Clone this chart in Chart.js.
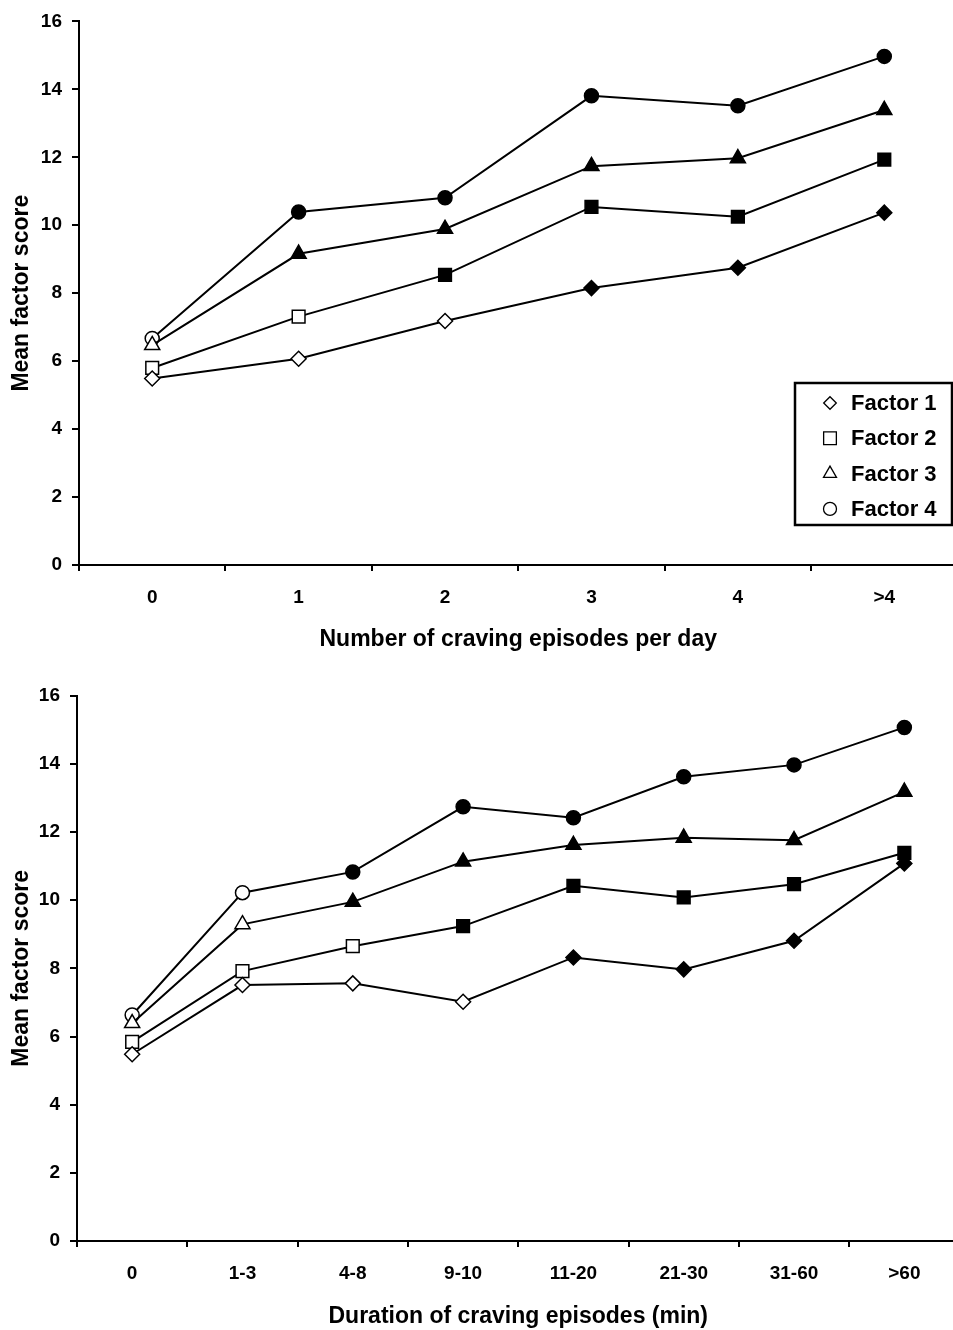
<!DOCTYPE html>
<html>
<head>
<meta charset="utf-8">
<title>Mean factor score by craving episodes</title>
<script src="https://cdn.jsdelivr.net/npm/chart.js@4"></script>
<style>
html,body{margin:0;padding:0;background:#fff;overflow:hidden}
.wrap{position:relative;width:953px;height:1330px;overflow:hidden}
canvas{position:absolute;left:0}
#chartEpisodes{top:0}
#chartDuration{top:665px}
</style>
</head>
<body>
<div class="wrap">
<canvas id="chartEpisodes" width="968" height="665"></canvas>
<canvas id="chartDuration" width="970" height="665"></canvas>
</div>
<script>
// --- data: number of craving episodes per day ---
var episodeLabels = ['0', '1', '2', '3', '4', '>4'];
var f1Episodes = [5.49, 6.07, 7.18, 8.15, 8.75, 10.37];
var f2Episodes = [5.80, 7.31, 8.54, 10.54, 10.25, 11.93];
var f3Episodes = [6.47, 9.16, 9.89, 11.74, 11.97, 13.39];
var f4Episodes = [6.67, 10.39, 10.81, 13.81, 13.52, 14.97];
// 1 = filled marker, 0 = open marker
var f1EpisodesFilled = [0, 0, 0, 1, 1, 1];
var f2EpisodesFilled = [0, 0, 1, 1, 1, 1];
var f3EpisodesFilled = [0, 1, 1, 1, 1, 1];
var f4EpisodesFilled = [0, 1, 1, 1, 1, 1];

// --- data: duration of craving episodes (min) ---
var durationLabels = ['0', '1-3', '4-8', '9-10', '11-20', '21-30', '31-60', '>60'];
var f1Duration = [5.48, 7.51, 7.56, 7.02, 8.32, 7.97, 8.81, 11.08];
var f2Duration = [5.84, 7.92, 8.65, 9.24, 10.42, 10.08, 10.47, 11.39];
var f3Duration = [6.39, 9.29, 9.95, 11.13, 11.62, 11.83, 11.76, 13.18];
var f4Duration = [6.63, 10.22, 10.83, 12.74, 12.42, 13.62, 13.97, 15.07];
var f1DurationFilled = [0, 0, 0, 0, 1, 1, 1, 1];
var f2DurationFilled = [0, 0, 0, 1, 1, 1, 1, 1];
var f3DurationFilled = [0, 0, 1, 1, 1, 1, 1, 1];
var f4DurationFilled = [0, 0, 1, 1, 1, 1, 1, 1];

var factorNames = ['Factor 1', 'Factor 2', 'Factor 3', 'Factor 4'];
var yTicks = [0, 2, 4, 6, 8, 10, 12, 14, 16];

var FONT = "'Liberation Sans', Arial, Helvetica, sans-serif";
var STYLES = ['rectRot', 'rect', 'triangle', 'circle'];
var RADII = [7.5, 9, 8.7, 7];

// legend box drawn inside the plot (top chart only)
var boxLegend = {
  id: 'boxLegend',
  afterDraw: function (chart) {
    var ctx = chart.ctx;
    var bx = 795, by = 383, bw = 157, bh = 142;
    var markX = 830, textX = 851, firstY = 403, step = 35.3;
    var markR = [6.3, 9, 7.5, 6.5];
    ctx.save();
    ctx.lineWidth = 2.5;
    ctx.strokeStyle = '#000';
    ctx.strokeRect(bx, by, bw, bh);
    chart.data.datasets.forEach(function (ds, i) {
      var cy = firstY + i * step;
      ctx.fillStyle = '#fff';
      ctx.strokeStyle = '#000';
      ctx.lineWidth = 1.3;
      if (Chart.helpers && Chart.helpers.drawPoint) {
        Chart.helpers.drawPoint(ctx, {pointStyle: ds.pointStyle, radius: markR[i], borderWidth: 1.3, rotation: 0}, markX, cy);
      }
      ctx.fillStyle = '#000';
      ctx.font = 'bold 22px ' + FONT;
      ctx.textAlign = 'left';
      ctx.textBaseline = 'middle';
      ctx.fillText(ds.label, textX, cy + 1);
    });
    ctx.restore();
  }
};

function makeChart(id, labels, series, filled, o) {
  var datasets = series.map(function (vals, i) {
    return {
      label: factorNames[i],
      data: vals,
      borderColor: '#000',
      borderWidth: 2,
      tension: 0,
      fill: false,
      pointStyle: STYLES[i],
      pointRadius: RADII[i],
      pointHoverRadius: RADII[i],
      pointBorderColor: '#000',
      pointBorderWidth: 1.5,
      pointBackgroundColor: filled[i].map(function (f) { return f ? '#000' : '#fff'; })
    };
  });
  var tickFont = {family: FONT, size: 19, weight: 'bold'};
  var titleFont = {family: FONT, size: 23, weight: 'bold'};
  return new Chart(document.getElementById(id), {
    type: 'line',
    data: {labels: labels, datasets: datasets},
    plugins: o.legend ? [boxLegend] : [],
    options: {
      responsive: false,
      animation: false,
      events: [],
      layout: {padding: {top: o.top, right: 0, bottom: 0, left: 0}},
      plugins: {legend: {display: false}, tooltip: {enabled: false}},
      scales: {
        x: {
          type: 'category',
          offset: true,
          grid: {display: true, offset: true, drawOnChartArea: false, drawTicks: true, tickLength: 6, color: '#000', lineWidth: 2},
          border: {display: true, color: '#000', width: 2},
          ticks: {color: '#000', font: tickFont, padding: 15, maxRotation: 0, autoSkip: false},
          title: {display: true, text: o.xTitle, color: '#000', font: titleFont, padding: {top: 0, bottom: o.titlePad}},
          afterFit: function (s) { s.height = o.xHeight; }
        },
        y: {
          min: 0,
          max: 16,
          afterBuildTicks: function (s) { s.ticks = yTicks.map(function (v) { return {value: v}; }); },
          grid: {display: true, drawOnChartArea: false, drawTicks: true, tickLength: 7, color: '#000', lineWidth: 2},
          border: {display: true, color: '#000', width: 2},
          ticks: {color: '#000', font: tickFont, padding: 10},
          title: {display: true, text: 'Mean factor score', color: '#000', font: titleFont, padding: {top: 8, bottom: 0}},
          afterFit: function (s) { s.width = o.yWidth; }
        }
      }
    }
  });
}

makeChart('chartEpisodes', episodeLabels,
  [f1Episodes, f2Episodes, f3Episodes, f4Episodes],
  [f1EpisodesFilled, f2EpisodesFilled, f3EpisodesFilled, f4EpisodesFilled],
  {legend: true, top: 17.5, xHeight: 100, yWidth: 79, titlePad: 12, xTitle: 'Number of craving episodes per day'});

makeChart('chartDuration', durationLabels,
  [f1Duration, f2Duration, f3Duration, f4Duration],
  [f1DurationFilled, f2DurationFilled, f3DurationFilled, f4DurationFilled],
  {legend: false, top: 30.7, xHeight: 89, yWidth: 77, titlePad: 0, xTitle: 'Duration of craving episodes (min)'});
</script>
</body>
</html>
